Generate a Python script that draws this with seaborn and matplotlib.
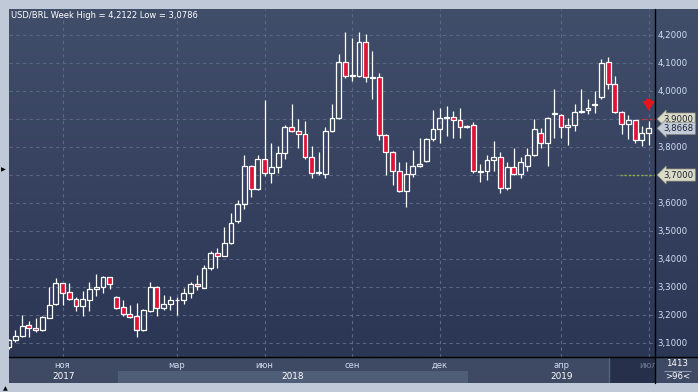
import numpy as np
import pandas as pd
import matplotlib
matplotlib.use("Agg")
import matplotlib.pyplot as plt
from matplotlib.colors import LinearSegmentedColormap
from matplotlib.lines import Line2D
from matplotlib.patches import Rectangle
import seaborn as sns

# weekly USD/BRL candles, first week starts 2017-09-04
first_week = "2017-09-04"
opens = [3.085, 3.110, 3.124, 3.163, 3.153, 3.145, 3.190, 3.238, 3.313, 3.281,
         3.256, 3.232, 3.254, 3.292, 3.299, 3.336, 3.263, 3.227, 3.202, 3.195,
         3.145, 3.215, 3.300, 3.226, 3.238, 3.252, 3.252, 3.277, 3.310, 3.296,
         3.367, 3.420, 3.410, 3.456, 3.534, 3.595, 3.734, 3.649, 3.759, 3.706,
         3.727, 3.780, 3.873, 3.859, 3.845, 3.766, 3.708, 3.702, 3.859, 3.904,
         4.105, 4.054, 4.055, 4.174, 4.049, 4.049, 3.842, 3.781, 3.713, 3.642,
         3.702, 3.731, 3.749, 3.827, 3.863, 3.902, 3.909, 3.895, 3.875, 3.877,
         3.712, 3.713, 3.752, 3.766, 3.652, 3.727, 3.702, 3.731, 3.773, 3.849,
         3.813, 3.919, 3.916, 3.870, 3.877, 3.925, 3.931, 3.951, 3.977, 4.102,
         4.024, 3.924, 3.884, 3.895, 3.824, 3.849]
highs = [3.115, 3.145, 3.200, 3.178, 3.190, 3.196, 3.300, 3.333, 3.316, 3.314,
         3.265, 3.286, 3.318, 3.345, 3.341, 3.337, 3.268, 3.252, 3.235, 3.244,
         3.221, 3.318, 3.302, 3.271, 3.268, 3.264, 3.298, 3.317, 3.343, 3.379,
         3.429, 3.438, 3.514, 3.564, 3.610, 3.771, 3.736, 3.771, 3.968, 3.813,
         3.804, 3.880, 3.953, 3.899, 3.892, 3.803, 3.781, 3.870, 3.953, 4.132,
         4.2122, 4.188, 4.210, 4.203, 4.142, 4.063, 3.845, 3.787, 3.745, 3.745,
         3.789, 3.831, 3.831, 3.931, 3.941, 3.945, 3.930, 3.941, 3.877, 3.891,
         3.738, 3.770, 3.820, 3.784, 3.745, 3.795, 3.766, 3.795, 3.899, 3.867,
         3.909, 4.009, 3.918, 3.902, 3.955, 4.006, 3.970, 3.999, 4.113, 4.120,
         4.052, 3.928, 3.913, 3.897, 3.874, 3.892]
lows = [3.0786, 3.105, 3.120, 3.120, 3.140, 3.143, 3.188, 3.235, 3.235, 3.252,
        3.215, 3.197, 3.214, 3.268, 3.277, 3.292, 3.220, 3.196, 3.190, 3.120,
        3.143, 3.212, 3.196, 3.218, 3.218, 3.200, 3.238, 3.262, 3.290, 3.295,
        3.360, 3.369, 3.409, 3.455, 3.530, 3.578, 3.622, 3.645, 3.698, 3.670,
        3.706, 3.759, 3.854, 3.795, 3.759, 3.689, 3.699, 3.688, 3.855, 3.900,
        4.048, 4.037, 4.051, 4.031, 3.970, 3.824, 3.700, 3.664, 3.640, 3.585,
        3.692, 3.728, 3.745, 3.820, 3.815, 3.838, 3.833, 3.834, 3.868, 3.706,
        3.674, 3.681, 3.713, 3.634, 3.648, 3.700, 3.688, 3.713, 3.767, 3.795,
        3.734, 3.834, 3.831, 3.809, 3.859, 3.920, 3.917, 3.920, 3.970, 4.009,
        3.920, 3.845, 3.827, 3.813, 3.802, 3.806]
closes = [3.110, 3.124, 3.160, 3.153, 3.145, 3.192, 3.235, 3.313, 3.280, 3.256,
          3.232, 3.256, 3.292, 3.299, 3.336, 3.310, 3.226, 3.202, 3.194, 3.145,
          3.218, 3.300, 3.226, 3.238, 3.252, 3.253, 3.277, 3.310, 3.302, 3.367,
          3.420, 3.410, 3.456, 3.527, 3.595, 3.734, 3.649, 3.759, 3.706, 3.727,
          3.780, 3.873, 3.859, 3.845, 3.766, 3.709, 3.710, 3.859, 3.905, 4.105,
          4.055, 4.056, 4.174, 4.049, 4.048, 3.842, 3.781, 3.713, 3.642, 3.702,
          3.731, 3.738, 3.827, 3.863, 3.902, 3.909, 3.895, 3.873, 3.873, 3.713,
          3.714, 3.752, 3.766, 3.652, 3.727, 3.702, 3.745, 3.773, 3.863, 3.813,
          3.902, 3.921, 3.870, 3.877, 3.924, 3.927, 3.938, 3.953, 4.099, 4.024,
          3.924, 3.881, 3.895, 3.824, 3.849, 3.8668]

month_labels = ["ноя", "мар", "июн", "сен", "дек", "апр", "июл"]
month_starts = ["2017-11-01", "2018-03-01", "2018-06-01", "2018-09-01",
                "2018-12-01", "2019-04-01", "2019-07-01"]
year_labels = ["2017", "2018", "2019"]
year_starts = ["2017-01-01", "2018-01-01", "2019-01-01", "2020-01-01"]
y_ticks = [3.1, 3.2, 3.3, 3.4, 3.5, 3.6, 3.7, 3.8, 3.9, 4.0, 4.1, 4.2]
alert_levels = [3.9, 3.7]
alert_from = [93.8, 90.8]
alert_colors = ["#d82a36", "#8db43c"]
tag_values = [3.9, 3.8668, 3.7]
tag_colors = ["#dcdcc6", "#c3cad9", "#dcdcc6"]
counter_top = "1413"
counter_bottom = ">96<"


def fmt(v):
    return f"{v:.4f}".replace(".", ",")


df = pd.DataFrame({"open": opens, "high": highs, "low": lows, "close": closes})
start = pd.Timestamp(first_week)
df["week"] = pd.date_range(start, periods=len(df), freq="7D")
df["i"] = np.arange(len(df))
month_pos = [(pd.Timestamp(d) - start).days // 7 for d in month_starts]

W, H = 698, 392
sns.set_style("dark")
plt.rcParams["font.family"] = ["DejaVu Sans"]
fig = plt.figure(figsize=(W / 100, H / 100), dpi=100)
fig.patch.set_facecolor("#c0c9d7")

xmin, xmax = 0.05, 95.95
ymin, ymax = 3.05, 4.293
bg = LinearSegmentedColormap.from_list("bg", ["#414e6a", "#2b3654"])
grad = np.linspace(0, 1, 256).reshape(-1, 1)

ax = fig.add_axes([9 / W, 1 - 357 / H, 646 / W, 348 / H])
ax.imshow(grad, cmap=bg, extent=[xmin, xmax, ymin, ymax], aspect="auto", zorder=0)
ax.set_xlim(xmin, xmax)
ax.set_ylim(ymin, ymax)
ax.set_xticks(month_pos)
ax.set_yticks(y_ticks)
ax.tick_params(length=0, labelbottom=False, labelleft=False)
ax.grid(True, color="#5a6885", lw=0.8, ls=(0, (3, 3)), zorder=1)
for s in ax.spines.values():
    s.set_visible(False)

# candles
up = df["close"] >= df["open"]
body_lo = np.minimum(df["open"], df["close"])
body_hi = np.maximum(df["open"], df["close"])
ax.vlines(df["i"], body_hi, df["high"], color="white", lw=0.9, zorder=3)
ax.vlines(df["i"], df["low"], body_lo, color="white", lw=0.9, zorder=3)
ax.bar(df["i"][up], (body_hi - body_lo)[up], bottom=body_lo[up], width=0.72,
       facecolor="none", edgecolor="white", lw=0.9, zorder=4)
ax.bar(df["i"][~up], (body_hi - body_lo)[~up], bottom=body_lo[~up], width=0.72,
       facecolor="#e01238", edgecolor="white", lw=0.9, zorder=4)

# alert lines and arrow
for lvl, x0, c in zip(alert_levels, alert_from, alert_colors):
    ax.hlines(lvl, x0, xmax, color=c, lw=1, ls=(0, (1.5, 1.5)), zorder=2)
ax.annotate("", xy=(95, 3.930), xytext=(95, 3.972),
            arrowprops=dict(arrowstyle="simple,head_length=0.7,head_width=0.9,tail_width=0.35",
                            color="#e8141c", lw=0, shrinkA=0, shrinkB=0), zorder=5)

fig.text(11 / W, 1 - 16 / H, f"USD/BRL Week High = {fmt(max(highs))} Low = {fmt(min(lows))}",
         color="white", fontsize=6.0, va="center")

# right price axis
ax_r = fig.add_axes([655 / W, 1 - 357 / H, 43 / W, 348 / H])
ax_r.imshow(grad, cmap=bg, extent=[0, 1, ymin, ymax], aspect="auto", zorder=0)
ax_r.set_xlim(0, 1)
ax_r.set_ylim(ymin, ymax)
ax_r.axis("off")
for v in y_ticks:
    if any(abs(v - t) < 0.001 for t in tag_values):
        continue
    ax_r.text(0.06, v, fmt(v), color="#d3e0f4", fontsize=6.2, va="center")
for v, c in zip(tag_values, tag_colors):
    ax_r.text(0.2, v, fmt(v), color="#1b2233", fontsize=6.2, va="center", zorder=5,
              bbox=dict(boxstyle="larrow,pad=0.18", fc=c, ec="#8e8e80", lw=0.5))

# bottom time axis
ax_b = fig.add_axes([9 / W, 9 / H, 646 / W, 26 / H])
ax_b.set_xlim(xmin, xmax)
ax_b.set_ylim(0, 1)
ax_b.axis("off")
ax_b.add_patch(Rectangle((xmin, 0), xmax - xmin, 1, fc="#3e4a64", ec="none", zorder=0))
year_edges = [(pd.Timestamp(d) - start).days // 7 - 0.8 for d in year_starts]
for k, lab in enumerate(year_labels):
    a, b = max(year_edges[k], xmin), min(year_edges[k + 1], xmax)
    if k % 2 == 1:
        ax_b.add_patch(Rectangle((a, 0), b - a, 0.46, fc="#505d77", ec="none", zorder=1))
    ax_b.text((a + b) / 2, 0.25, lab, color="white", fontsize=6.4, ha="center", va="center", zorder=3)
ax_b.add_patch(Rectangle((89.1, 0), xmax - 89.1, 1, fc="#27304a", ec="none", zorder=2))
ax_b.vlines(89.1, 0, 1, color="#56637e", lw=1, zorder=2)
for p, lab in zip(month_pos, month_labels):
    col = "#6d7992" if p > 89 else "#d3dcee"
    ax_b.text(p, 0.66, lab, color=col, fontsize=6, ha="center", va="center", zorder=3, clip_on=True)

# corner counter
ax_c = fig.add_axes([655 / W, 9 / H, 43 / W, 26 / H])
ax_c.set_xlim(0, 1)
ax_c.set_ylim(0, 1)
ax_c.axis("off")
ax_c.add_patch(Rectangle((0, 0), 1, 1, fc="#3e4a64", ec="none"))
ax_c.text(0.52, 0.74, counter_top, color="white", fontsize=6.2, ha="center", va="center")
ax_c.hlines(0.47, 0.2, 0.84, color="#8994aa", lw=0.8)
ax_c.text(0.52, 0.24, counter_bottom, color="white", fontsize=6.2, ha="center", va="center")

fig.add_artist(Line2D([655 / W, 655 / W], [9 / H, 1 - 9 / H], color="black", lw=1))
fig.add_artist(Line2D([9 / W, 1], [1 - 357 / H, 1 - 357 / H], color="black", lw=1))
fig.text(1 / W, 1 - 170 / H, "▶", color="black", fontsize=4.5, va="center")
fig.text(3 / W, 1 - 389 / H, "▲", color="black", fontsize=4.5, va="center")

fig.savefig("out.png", dpi=100, facecolor=fig.get_facecolor())
